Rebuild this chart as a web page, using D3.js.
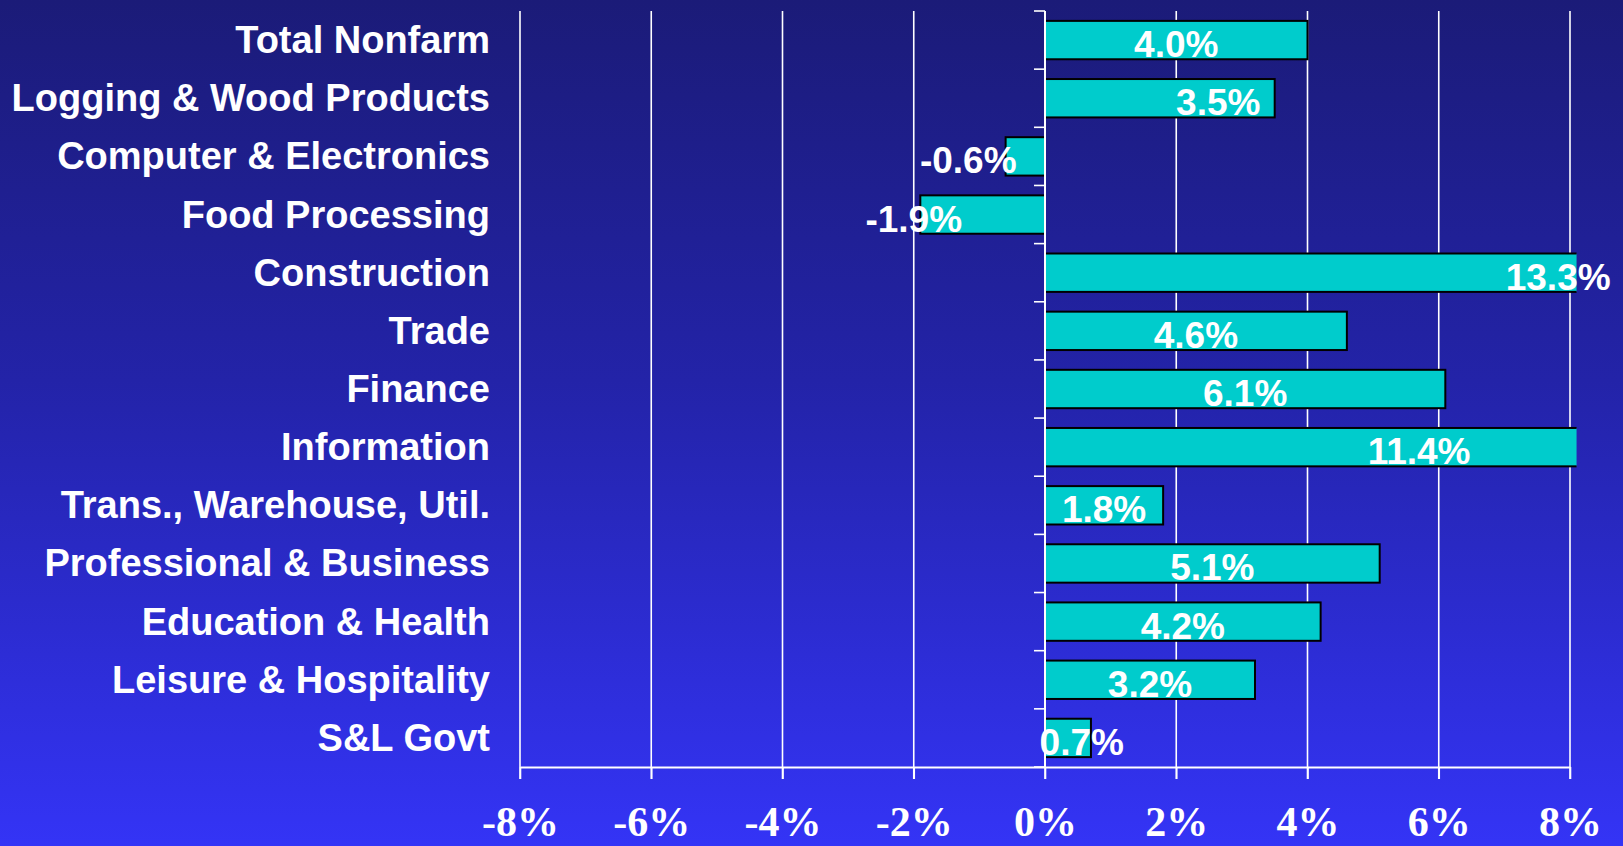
<!DOCTYPE html>
<html>
<head>
<meta charset="utf-8">
<script src="https://cdn.jsdelivr.net/npm/d3@7"></script>
<style>
  html, body { margin: 0; padding: 0; background: #2a2ac0; }
  svg { display: block; }
</style>
</head>
<body>
<svg id="chart" width="1623" height="846"></svg>
<script>
// Employment growth by industry, percent change
const categories = [
  "Total Nonfarm",
  "Logging & Wood Products",
  "Computer & Electronics",
  "Food Processing",
  "Construction",
  "Trade",
  "Finance",
  "Information",
  "Trans., Warehouse, Util.",
  "Professional & Business",
  "Education & Health",
  "Leisure & Hospitality",
  "S&L Govt"
];
const growth = [4.0, 3.5, -0.6, -1.9, 13.3, 4.6, 6.1, 11.4, 1.8, 5.1, 4.2, 3.2, 0.7];
const tickValues = [-8, -6, -4, -2, 0, 2, 4, 6, 8];
const tickLabels = ["-8%", "-6%", "-4%", "-2%", "0%", "2%", "4%", "6%", "8%"];

// Where a value label sits on the value axis when it is not at the bar's midpoint
const labelAnchor = {
  "Logging & Wood Products": 2.64,
  "Computer & Electronics": -1.17,
  "Food Processing": -2.0,
  "Construction": 7.82,
  "S&L Govt": 0.56
};

const W = 1623, H = 846;
const plot = { left: 520, right: 1570, top: 11, bottom: 767 };

const svg = d3.select("#chart");

// Background: dark navy at the top fading to bright blue at the bottom
const defs = svg.append("defs");
const grad = defs.append("linearGradient")
  .attr("id", "bg").attr("x1", 0).attr("y1", 0).attr("x2", 0).attr("y2", 1);
grad.append("stop").attr("offset", "0%").attr("stop-color", "#1b1b78");
grad.append("stop").attr("offset", "45%").attr("stop-color", "#2323a8");
grad.append("stop").attr("offset", "100%").attr("stop-color", "#3434f6");
svg.append("rect").attr("width", W).attr("height", H).attr("fill", "url(#bg)");

const x = d3.scaleLinear().domain([-8, 8]).range([plot.left, plot.right]);
const yRow = d3.scaleBand().domain(categories).range([plot.top, plot.bottom]).padding(0);
const yBar = d3.scaleBand().domain(categories).range([plot.top, plot.bottom])
  .paddingInner(0.34).paddingOuter(0.17);

defs.append("clipPath").attr("id", "plotClip")
  .append("rect")
  .attr("x", x(-8)).attr("y", 0)
  .attr("width", x(8.1) - x(-8)).attr("height", H);

// Vertical gridlines, running a little below the value axis
svg.append("g")
  .selectAll("line")
  .data(tickValues)
  .join("line")
  .attr("x1", d => x(d)).attr("x2", d => x(d))
  .attr("y1", plot.top).attr("y2", plot.bottom + 12)
  .attr("stroke", "#ffffff").attr("stroke-width", 1.6);

// Value axis along the bottom
const xAxis = d3.axisBottom(x)
  .tickValues(tickValues)
  .tickFormat((d, i) => tickLabels[i])
  .tickSize(12)
  .tickSizeOuter(0);
const gx = svg.append("g")
  .attr("transform", `translate(0,${plot.bottom})`)
  .call(xAxis);
gx.select(".domain").attr("stroke", "#ffffff").attr("stroke-width", 2.2);
gx.selectAll(".tick line").attr("stroke", "#ffffff").attr("stroke-width", 1.6);
gx.selectAll(".tick text")
  .attr("y", 69)
  .attr("dy", 0)
  .attr("fill", "#ffffff")
  .attr("font-family", "'Liberation Serif', 'Times New Roman', serif")
  .attr("font-weight", "bold")
  .attr("font-size", 42);

// Bars
svg.append("g")
  .attr("clip-path", "url(#plotClip)")
  .selectAll("rect")
  .data(categories)
  .join("rect")
  .attr("x", (c, i) => x(Math.min(0, growth[i])))
  .attr("y", c => yBar(c))
  .attr("width", (c, i) => Math.abs(x(growth[i]) - x(0)))
  .attr("height", yBar.bandwidth())
  .attr("fill", "#00cccc")
  .attr("stroke", "#000000")
  .attr("stroke-width", 2);

// Category axis at zero, with ticks between the rows
const zeroAxis = svg.append("g");
zeroAxis.append("line")
  .attr("x1", x(0)).attr("x2", x(0))
  .attr("y1", plot.top).attr("y2", plot.bottom)
  .attr("stroke", "#ffffff").attr("stroke-width", 2);
const boundaries = categories.map(c => yRow(c)).concat([plot.bottom]);
zeroAxis.selectAll("line.rowtick")
  .data(boundaries)
  .join("line")
  .attr("class", "rowtick")
  .attr("x1", x(0) - 11).attr("x2", x(0))
  .attr("y1", d => d).attr("y2", d => d)
  .attr("stroke", "#ffffff").attr("stroke-width", 1.6);

// Category names, right-aligned
svg.append("g")
  .selectAll("text")
  .data(categories)
  .join("text")
  .attr("x", 490)
  .attr("y", c => yRow(c) + yRow.bandwidth() / 2 + 13)
  .attr("text-anchor", "end")
  .attr("fill", "#ffffff")
  .attr("font-family", "'Liberation Sans', Arial, sans-serif")
  .attr("font-weight", "bold")
  .attr("font-size", 38)
  .text(c => c);

// Value labels, with a plain hyphen for negatives
const fmt = v => v.toFixed(1) + "%";
svg.append("g")
  .selectAll("text")
  .data(categories)
  .join("text")
  .attr("x", (c, i) => x(c in labelAnchor ? labelAnchor[c] : growth[i] / 2))
  .attr("y", c => yBar(c) + yBar.bandwidth() / 2 + 17)
  .attr("text-anchor", "middle")
  .attr("fill", "#ffffff")
  .attr("font-family", "'Liberation Sans', Arial, sans-serif")
  .attr("font-weight", "bold")
  .attr("font-size", 37)
  .text((c, i) => fmt(growth[i]));
</script>
</body>
</html>
